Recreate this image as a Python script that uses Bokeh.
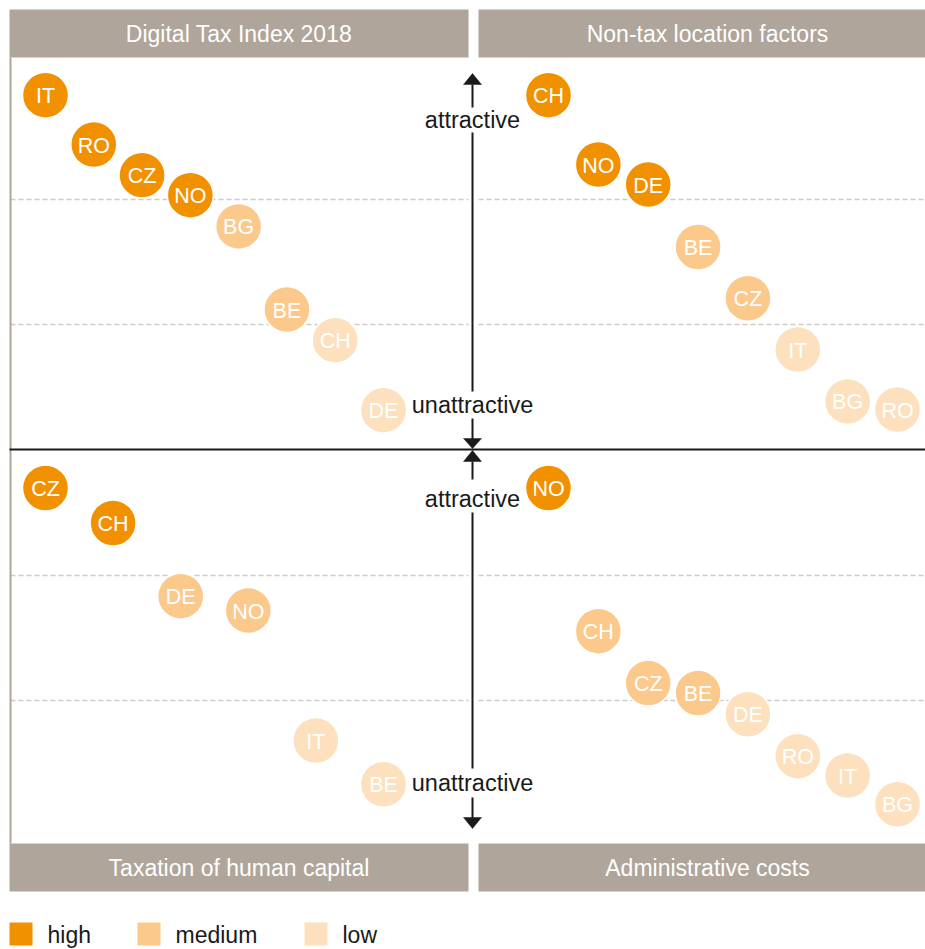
from bokeh.plotting import figure
from bokeh.models import Range1d, ColumnDataSource
from bokeh.core.properties import value
from bokeh.embed import file_html
from bokeh.resources import INLINE
import numpy as np

# ---------------- data ----------------
level_names = ["high", "medium", "low"]
level_colors = ["#F29100", "#FBC98B", "#FDE0BD"]

titles = ["Digital Tax Index 2018", "Non-tax location factors",
          "Taxation of human capital", "Administrative costs"]

dti_countries = ["IT", "RO", "CZ", "NO", "BG", "BE", "CH", "DE"]
dti_scores = [5.67, 4.88, 4.39, 4.07, 3.57, 2.24, 1.75, 0.63]
dti_levels = ["high", "high", "high", "high", "medium", "medium", "low", "low"]

ntl_countries = ["CH", "NO", "DE", "BE", "CZ", "IT", "BG", "RO"]
ntl_scores = [5.67, 4.56, 4.24, 3.24, 2.42, 1.60, 0.77, 0.64]
ntl_levels = ["high", "high", "high", "medium", "medium", "low", "low", "low"]

thc_countries = ["CZ", "CH", "DE", "NO", "IT", "BE"]
thc_scores = [5.40, 4.84, 3.67, 3.44, 1.36, 0.66]
thc_levels = ["high", "high", "medium", "medium", "low", "low"]

adm_countries = ["NO", "CH", "CZ", "BE", "DE", "RO", "IT", "BG"]
adm_scores = [5.40, 3.11, 2.28, 2.12, 1.78, 1.11, 0.80, 0.34]
adm_levels = ["high", "medium", "medium", "medium", "low", "low", "low", "low"]

grid_scores = [2, 4]
axis_labels = ["attractive", "unattractive"]

# ---------------- layout ----------------
W, H = 925, 949
FONT = "Liberation Sans"
HEADER = "#AFA59B"
GRID = "#CFCAC5"
INK = "#1A1A1A"

p = figure(width=W, height=H, x_range=Range1d(0, W), y_range=Range1d(H, 0),
           output_backend="svg", toolbar_location=None, min_border=0,
           x_axis_location=None, y_axis_location=None)
p.grid.visible = False
p.outline_line_color = None
p.background_fill_color = "white"

# data ranges for the panels (pixel positions of rank 0..1 and score 0)
p.extra_x_ranges = {
    "xl": Range1d(-45 / 338, (W - 45) / 338),
    "xr": Range1d(-548 / 349, (W - 548) / 349),
}
p.extra_y_ranges = {
    "yt": Range1d((449 - H) / 62.5, 449 / 62.5),
    "yb": Range1d((825 - H) / 62.5, 825 / 62.5),
}

panel_x = {"xl": (10, 468), "xr": (478, 938)}

# gridlines
for yr in ["yt", "yb"]:
    for xr in ["xl", "xr"]:
        x0, x1 = panel_x[xr]
        p.segment(x0=[x0] * len(grid_scores), x1=[x1] * len(grid_scores),
                  y0=grid_scores, y1=grid_scores, y_range_name=yr,
                  line_color=GRID, line_width=1.6, line_dash="5 3")

# headers
hx0 = [9, 478, 9, 478]
hx1 = [468, 938, 468, 938]
hy0 = [9, 9, 843, 843]
hy1 = [57, 57, 891, 891]
p.quad(left=hx0, right=hx1, top=hy0, bottom=hy1, fill_color=HEADER, line_color=None)
p.text(x=[238.5, 707, 238.5, 707],
       y=[(a + b) / 2 for a, b in zip(hy0, hy1)], text=titles,
       text_font=value(FONT), text_font_size="23px", text_color="white",
       text_align="center", text_baseline="middle")

# left grey frame line
p.segment(x0=[10], x1=[10], y0=[57], y1=[843], line_color=HEADER, line_width=2)
# horizontal black axis line
p.segment(x0=[9], x1=[W], y0=[449], y1=[449], line_color=INK, line_width=2)

# vertical arrow lines
AX = 472
segs = [(84, 107), (132, 391), (418, 439), (461, 479), (512, 768), (797, 818)]
p.segment(x0=[AX] * len(segs), x1=[AX] * len(segs),
          y0=[s[0] for s in segs], y1=[s[1] for s in segs],
          line_color=INK, line_width=2)
# arrowheads (tip, base)
heads = [(73, 84), (448, 438), (450, 461), (828, 817)]
p.patches(xs=[[AX, AX - 9, AX + 9] for _ in heads],
          ys=[[t, b, b] for t, b in heads], fill_color=INK, line_color=INK, line_width=0.5)
p.text(x=[AX] * 4, y=[119, 404, 498, 782],
       text=[axis_labels[0], axis_labels[1], axis_labels[0], axis_labels[1]],
       text_font=value(FONT), text_font_size="23.5px", text_color=INK,
       text_align="center", text_baseline="middle")

# bubbles
color_of = dict(zip(level_names, level_colors))
panels = [
    (dti_countries, dti_scores, dti_levels, "xl", "yt"),
    (ntl_countries, ntl_scores, ntl_levels, "xr", "yt"),
    (thc_countries, thc_scores, thc_levels, "xl", "yb"),
    (adm_countries, adm_scores, adm_levels, "xr", "yb"),
]
for countries, scores, levels, xr, yr in panels:
    n = len(countries)
    src = ColumnDataSource(dict(
        pos=list(np.linspace(0, 1, n)), score=scores, name=countries,
        color=[color_of[l] for l in levels]))
    p.scatter(x="pos", y="score", source=src, marker="circle", size=46,
              fill_color="color", line_color="white", line_width=1.5,
              x_range_name=xr, y_range_name=yr)
    p.text(x="pos", y="score", text="name", source=src,
           x_range_name=xr, y_range_name=yr,
           text_font=value(FONT), text_font_size="21.5px", text_color="white",
           text_align="center", text_baseline="middle", y_offset=1)

# legend
sq_x = [20.5, 148.5, 315.5]
lab_x = [47, 175, 342]
p.scatter(x=sq_x, y=[933.5] * 3, marker="square", size=23,
          fill_color=level_colors, line_color=None)
p.text(x=lab_x, y=[934] * 3, text=level_names,
       text_font=value(FONT), text_font_size="23px", text_color=INK,
       text_align="left", text_baseline="middle")

open("out.html", "w").write(file_html(p, INLINE))
